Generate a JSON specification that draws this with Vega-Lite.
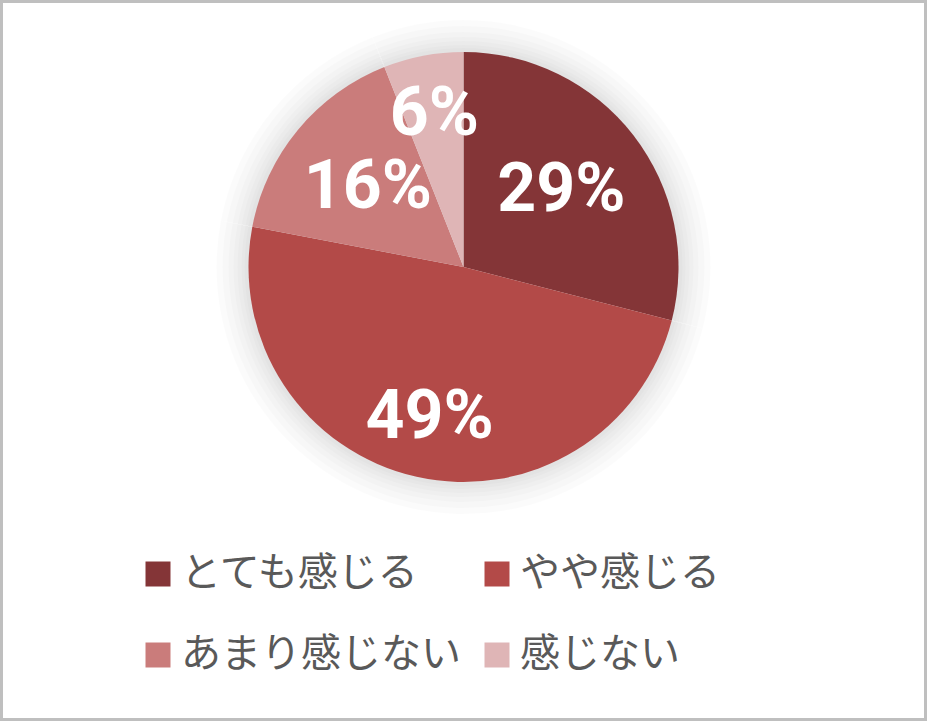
{
  "$schema": "https://vega.github.io/schema/vega-lite/v6.json",
  "width": 927,
  "height": 721,
  "autosize": "none",
  "padding": 0,
  "background": "white",
  "data": {
    "values": [
      {"label": "とても感じる", "share": 0.29, "rank": 1},
      {"label": "やや感じる", "share": 0.49, "rank": 2},
      {"label": "あまり感じない", "share": 0.16, "rank": 3},
      {"label": "感じない", "share": 0.06, "rank": 4}
    ]
  },
  "encoding": {
    "theta": {"field": "share", "type": "quantitative", "stack": true},
    "order": {"field": "rank", "type": "ordinal"},
    "y": {"value": 267}
  },
  "layer": [
    {"mark": {"type": "arc", "radius": 247, "color": "#000", "opacity": 0.016}},
    {"mark": {"type": "arc", "radius": 241, "color": "#000", "opacity": 0.016}},
    {"mark": {"type": "arc", "radius": 235, "color": "#000", "opacity": 0.016}},
    {"mark": {"type": "arc", "radius": 230, "color": "#000", "opacity": 0.016}},
    {"mark": {"type": "arc", "radius": 226, "color": "#000", "opacity": 0.016}},
    {"mark": {"type": "arc", "radius": 222, "color": "#000", "opacity": 0.016}},
    {"mark": {"type": "arc", "radius": 219, "color": "#000", "opacity": 0.016}},
    {
      "mark": {"type": "arc", "radius": 215},
      "encoding": {
        "color": {
          "field": "label",
          "type": "nominal",
          "sort": null,
          "scale": {
            "domain": ["とても感じる", "やや感じる", "あまり感じない", "感じない"],
            "range": ["#843537", "#B34A48", "#CA7C7B", "#DFB5B6"]
          },
          "legend": {
            "title": null,
            "orient": "none",
            "direction": "horizontal",
            "legendX": 138,
            "legendY": 554,
            "columns": 2,
            "symbolType": "square",
            "symbolSize": 625,
            "symbolStrokeWidth": 0,
            "labelFont": "Noto Sans CJK JP",
            "labelFontSize": 40,
            "labelColor": "#595959",
            "labelOffset": 3,
            "labelLimit": 400,
            "rowPadding": 41,
            "columnPadding": 16
          }
        }
      }
    },
    {
      "mark": {"type": "text", "radius": 124, "font": "Roboto", "fontWeight": "bold", "fontSize": 68, "color": "white", "baseline": "middle"},
      "encoding": {
        "text": {"field": "share", "type": "quantitative", "format": ".0%"},
        "opacity": {"condition": {"test": "datum.rank == 1 || datum.rank == 3", "value": 1}, "value": 0}
      }
    },
    {
      "mark": {"type": "text", "radius": 155, "font": "Roboto", "fontWeight": "bold", "fontSize": 68, "color": "white", "baseline": "middle"},
      "encoding": {
        "text": {"field": "share", "type": "quantitative", "format": ".0%"},
        "opacity": {"condition": {"test": "datum.rank == 2 || datum.rank == 4", "value": 1}, "value": 0}
      }
    }
  ],
  "config": {
    "view": {"stroke": "#bfbfbf", "strokeWidth": 6}
  }
}
